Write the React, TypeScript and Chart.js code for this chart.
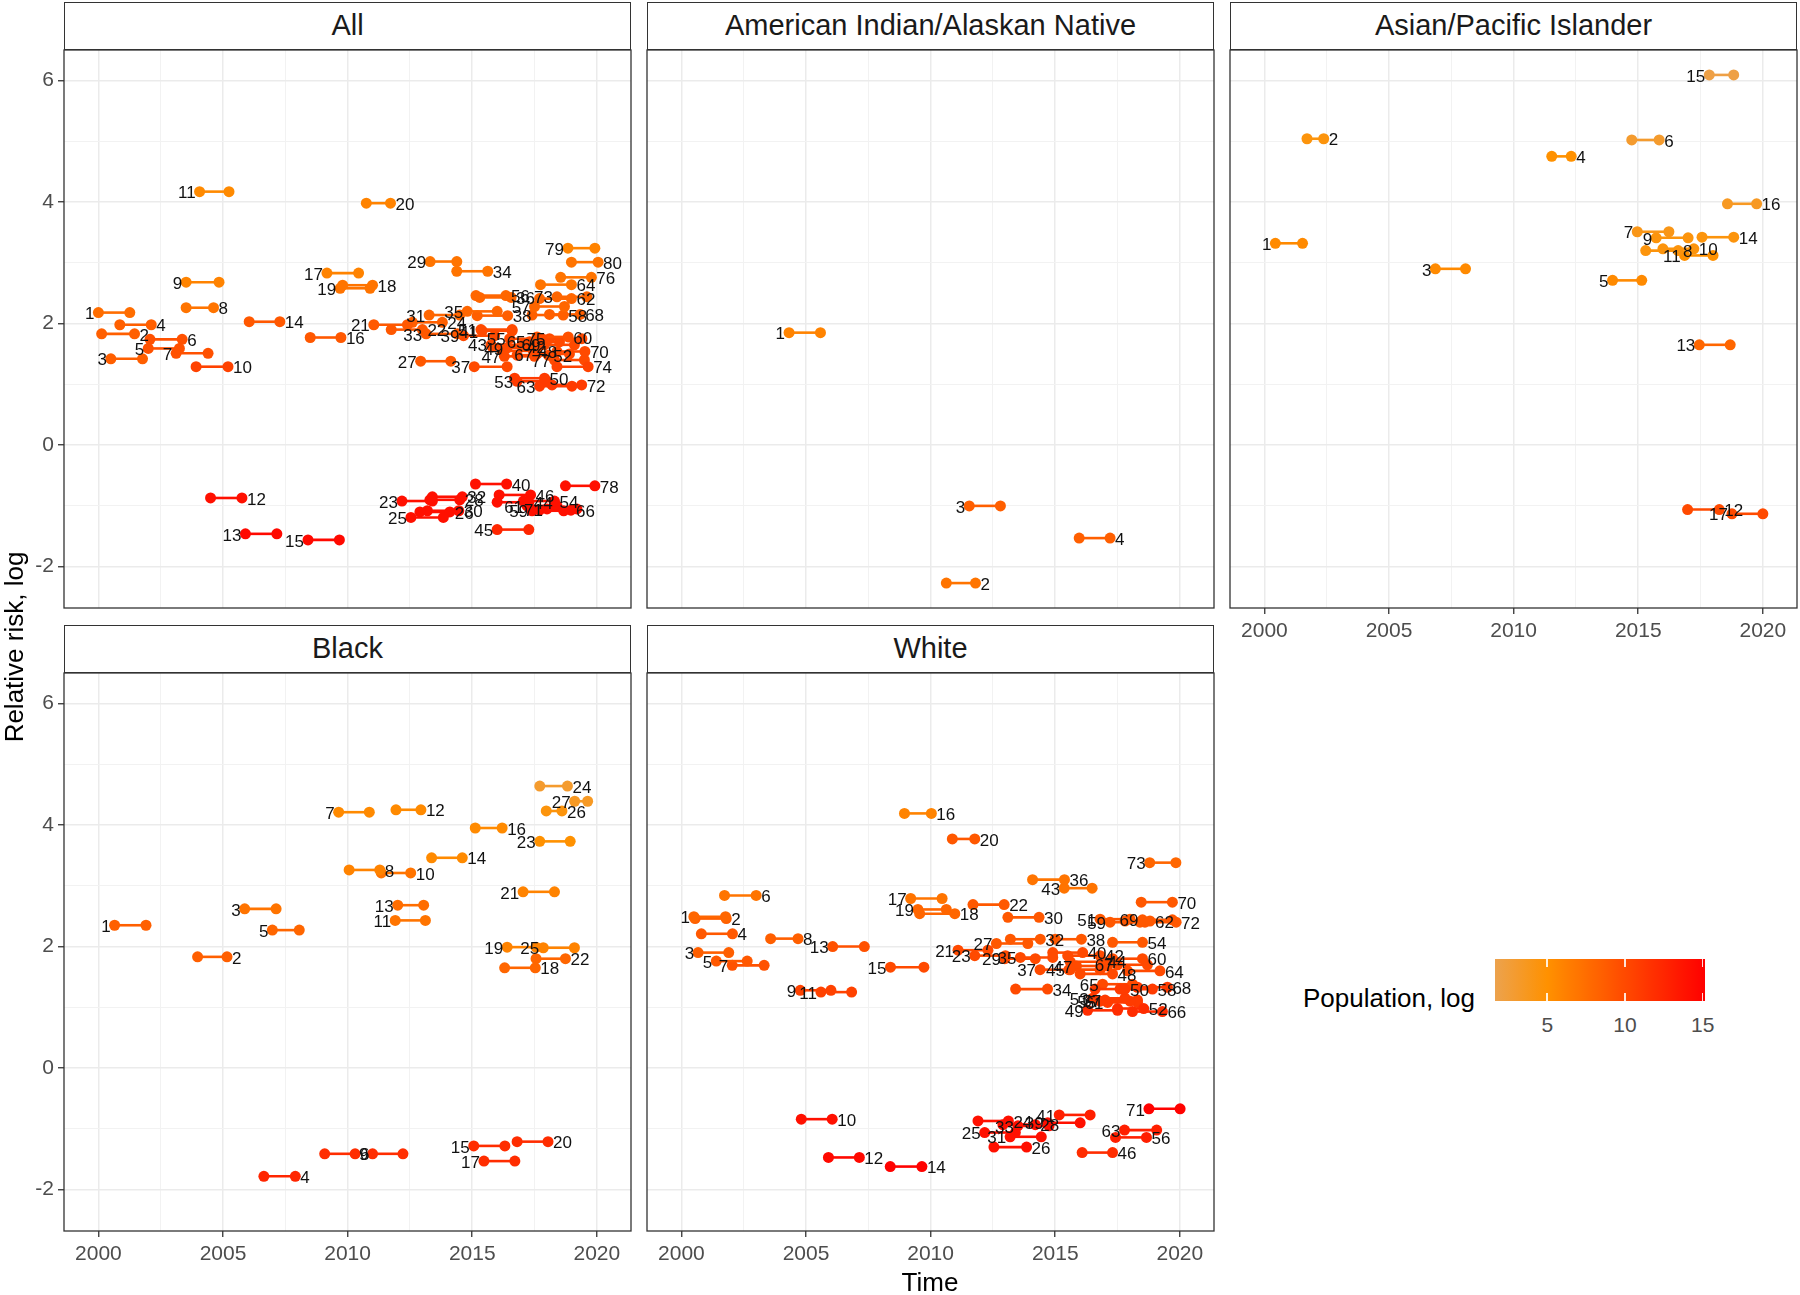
import React, { useEffect, useRef } from 'react';
import { Chart, registerables } from 'chart.js';
Chart.register(...registerables);

const FONT = '"Liberation Sans", Arial, Helvetica, sans-serif';
Chart.defaults.font.family = FONT;

// ---------- axis breaks / labels ----------
const xTickLabels = [2000, 2005, 2010, 2015, 2020];
const xMinorBreaks = [2002.5, 2007.5, 2012.5, 2017.5];
const yTickLabels = [-2, 0, 2, 4, 6];
const yMinorBreaks = [-1, 1, 3, 5];
const legendBreaks = [5, 10, 15];
const facetNames = ['All', 'American Indian/Alaskan Native', 'Asian/Pacific Islander', 'Black', 'White'];
const xTitle = 'Time';
const yTitle = 'Relative risk, log';
const legendTitle = 'Population, log';

// ---------- All ----------
const allStart = [2000.0, 2000.13, 2000.5, 2000.86, 2002.0, 2002.07, 2003.12, 2003.52, 2003.52, 2003.92, 2004.06, 2004.5, 2005.9, 2006.05, 2008.41, 2008.5, 2009.17, 2009.8, 2009.7, 2010.75, 2011.05, 2011.75, 2012.18, 2012.6, 2012.54, 2012.9, 2012.93, 2013.3, 2013.31, 2013.2, 2013.27, 2013.4, 2013.15, 2014.38, 2014.8, 2015.3, 2015.08, 2015.2, 2014.65, 2015.13, 2015.4, 2015.8, 2015.75, 2016.0, 2016.0, 2016.08, 2016.29, 2016.2, 2016.4, 2016.7, 2015.35, 2016.8, 2016.8, 2017.05, 2016.5, 2015.15, 2017.5, 2017.4, 2017.4, 2017.6, 2017.2, 2017.7, 2017.7, 2017.74, 2017.3, 2017.7, 2017.6, 2018.1, 2017.9, 2018.4, 2018.0, 2018.2, 2018.4, 2018.4, 2018.1, 2018.55, 2018.3, 2018.74, 2018.84, 2018.98];
const allEnd = [2001.26, 2001.45, 2001.77, 2002.12, 2003.25, 2003.36, 2004.4, 2004.62, 2004.84, 2005.2, 2005.24, 2005.76, 2007.16, 2007.28, 2009.67, 2009.73, 2010.44, 2011.0, 2010.9, 2011.72, 2012.4, 2013.0, 2013.4, 2013.8, 2013.84, 2014.1, 2014.14, 2014.5, 2014.38, 2014.46, 2014.5, 2014.6, 2014.4, 2015.62, 2016.0, 2016.56, 2016.4, 2016.42, 2015.9, 2016.38, 2016.6, 2017.0, 2017.0, 2017.27, 2017.27, 2017.34, 2017.5, 2017.45, 2017.6, 2017.9, 2016.6, 2018.05, 2018.0, 2018.3, 2017.8, 2016.35, 2018.7, 2018.65, 2018.67, 2018.85, 2018.4, 2018.98, 2019.0, 2018.98, 2018.5, 2018.96, 2018.9, 2019.33, 2019.1, 2019.52, 2019.2, 2019.39, 2019.6, 2019.65, 2019.4, 2019.78, 2019.5, 2019.92, 2019.92, 2020.05];
const allRisk = [2.18, 1.83, 1.42, 1.98, 1.59, 1.74, 1.51, 2.26, 2.68, 1.29, 4.17, -0.87, -1.46, 2.03, -1.56, 1.77, 2.83, 2.63, 2.58, 3.98, 1.98, 1.9, -0.92, 2.02, -1.19, -1.1, 1.38, -0.9, 3.02, -1.08, 2.14, -0.85, 1.83, 2.86, 2.2, 2.43, 1.29, 2.13, 1.8, -0.64, 1.88, 1.62, 1.65, -0.94, -1.39, -0.82, 1.46, 1.55, 1.6, 1.1, 1.9, 1.48, 1.05, -0.92, 1.75, 2.46, 2.28, 2.14, -1.08, 1.78, -1.0, 2.41, 0.97, 2.64, 1.7, -1.07, 1.5, 2.15, 1.65, 1.54, -1.05, 0.99, 2.44, 1.29, 1.75, 2.76, 1.4, -0.67, 3.24, 3.01];
const allPop = [7.5, 8.5, 8.5, 8.5, 9.5, 9.5, 9.5, 7, 6, 10.5, 5.5, 14, 14.5, 9, 14.5, 9, 6, 7, 7, 6, 9, 9, 14, 8.5, 14, 14, 9, 14, 7, 14, 8, 14, 9, 7, 8, 8, 10, 8.5, 10, 14, 10, 10, 10, 14, 12.5, 14, 10, 10, 10, 11, 10, 10, 11, 14, 10, 8, 8, 8.5, 14, 9.5, 14, 8, 11, 7, 10, 14, 10, 8.5, 10, 10, 14, 11, 8, 10.5, 10, 7, 10, 14, 6, 7];

// ---------- American Indian/Alaskan Native ----------
const aianStart = [2004.32, 2010.63, 2011.55, 2015.96];
const aianEnd = [2005.58, 2011.8, 2012.8, 2017.2];
const aianRisk = [1.85, -2.27, -1.0, -1.53];
const aianPop = [6, 7, 8.5, 8.5];

// ---------- Asian/Pacific Islander ----------
const asianStart = [2000.44, 2001.71, 2006.86, 2011.53, 2013.97, 2014.74, 2014.96, 2015.3, 2015.72, 2015.99, 2016.86, 2016.98, 2017.45, 2017.56, 2017.85, 2018.58, 2018.76];
const asianEnd = [2001.53, 2002.38, 2008.07, 2012.31, 2015.14, 2015.84, 2016.23, 2016.6, 2017.0, 2017.23, 2018.0, 2018.25, 2018.69, 2018.83, 2018.83, 2019.75, 2020.0];
const asianRisk = [3.32, 5.04, 2.9, 4.75, 2.71, 5.02, 3.51, 3.2, 3.41, 3.23, 3.12, -1.06, 1.65, 3.42, 6.09, 3.97, -1.13];
const asianPop = [5.5, 4.5, 5.5, 5, 5.5, 3, 4, 4.5, 4.5, 4.5, 5, 10, 8, 4.5, 2, 3.5, 10];

// ---------- Black ----------
const blackStart = [2000.65, 2003.98, 2005.87, 2006.64, 2006.98, 2009.08, 2009.64, 2010.06, 2011.0, 2011.35, 2011.91, 2011.94, 2012.01, 2013.37, 2015.06, 2015.12, 2015.47, 2016.3, 2016.4, 2016.8, 2017.04, 2017.56, 2017.71, 2017.71, 2017.85, 2017.97, 2019.11];
const blackEnd = [2001.91, 2005.16, 2007.13, 2007.9, 2008.06, 2010.3, 2010.87, 2011.29, 2012.22, 2012.53, 2013.12, 2012.94, 2013.05, 2014.6, 2016.31, 2016.2, 2016.71, 2017.53, 2017.56, 2018.04, 2018.3, 2018.74, 2018.93, 2018.82, 2019.1, 2018.6, 2019.63];
const blackRisk = [2.35, 1.83, 2.62, -1.78, 2.27, -1.41, 4.21, 3.26, -1.41, 3.21, 2.43, 4.25, 2.68, 3.46, -1.28, 3.95, -1.53, 1.65, 1.99, -1.21, 2.9, 1.8, 3.73, 4.64, 1.98, 4.23, 4.39];
const blackPop = [8.5, 8.5, 7, 12.5, 8, 12, 5.5, 6, 12, 7, 7, 5.5, 7.5, 5.5, 12, 5.5, 12, 8, 6, 12, 6, 8, 5, 3, 6, 4.5, 3.5];

// ---------- White ----------
const whiteStart = [2000.5, 2000.55, 2000.67, 2000.8, 2001.4, 2001.73, 2002.04, 2003.58, 2004.77, 2004.81, 2005.6, 2005.9, 2006.07, 2008.38, 2008.39, 2008.95, 2009.2, 2009.56, 2009.49, 2010.87, 2011.1, 2011.7, 2011.77, 2011.9, 2012.17, 2012.54, 2012.64, 2012.9, 2012.98, 2013.1, 2013.19, 2013.2, 2013.5, 2013.41, 2013.6, 2014.09, 2014.39, 2015.0, 2014.7, 2014.9, 2015.16, 2015.5, 2015.36, 2015.6, 2015.55, 2016.08, 2015.85, 2016.0, 2016.3, 2016.6, 2016.8, 2017.5, 2016.5, 2017.3, 2016.8, 2017.42, 2017.0, 2017.6, 2017.2, 2017.3, 2017.1, 2017.8, 2017.78, 2017.9, 2016.9, 2018.1, 2017.5, 2018.3, 2018.5, 2018.45, 2018.76, 2018.6, 2018.79];
const whiteEnd = [2001.77, 2001.8, 2001.9, 2002.05, 2002.64, 2003.0, 2003.32, 2004.68, 2006.0, 2006.05, 2006.83, 2007.14, 2007.34, 2009.65, 2009.73, 2010.03, 2010.46, 2010.97, 2010.63, 2011.77, 2012.3, 2012.95, 2013.0, 2013.12, 2013.4, 2013.85, 2013.9, 2014.2, 2014.2, 2014.35, 2014.44, 2014.4, 2014.75, 2014.69, 2014.9, 2015.37, 2015.6, 2016.05, 2016.0, 2016.1, 2016.4, 2016.8, 2016.48, 2016.9, 2016.8, 2017.3, 2017.1, 2017.3, 2017.5, 2017.8, 2018.0, 2018.55, 2017.8, 2018.5, 2018.0, 2018.66, 2018.3, 2018.9, 2018.4, 2018.5, 2018.3, 2018.8, 2019.07, 2019.2, 2018.1, 2019.3, 2018.7, 2019.5, 2019.7, 2019.7, 2020.01, 2019.85, 2019.84];
const whiteRisk = [2.49, 2.46, 1.9, 2.21, 1.76, 2.84, 1.69, 2.13, 1.28, -0.84, 1.25, -1.47, 2.0, -1.62, 1.66, 4.19, 2.79, 2.54, 2.61, 3.77, 1.94, 2.69, 1.85, -0.87, -1.06, -1.3, 2.05, -0.93, 1.8, 2.48, -1.13, 2.12, -0.95, 1.3, 1.82, 3.1, 1.62, 2.12, -0.9, 1.9, -0.77, 1.85, 2.96, 1.75, 1.62, -1.39, 1.68, 1.55, 0.95, 1.3, 2.45, 0.98, 1.15, 2.07, 1.1, -1.14, 1.12, 1.3, 2.4, 1.8, 1.08, 2.42, -1.02, 1.6, 1.38, 0.93, 1.7, 1.33, 2.44, 2.73, -0.67, 2.4, 3.38];
const whitePop = [8, 8.5, 8.5, 9, 9, 7, 9.5, 8.5, 10.5, 14, 10.5, 14.5, 9.5, 15, 10, 6, 7, 8, 8, 9, 10, 9, 10, 14, 14, 14, 9, 14, 10, 9, 14, 9, 14, 10, 10, 7, 10, 9, 14, 10, 13, 10, 7, 10, 10, 12, 10, 10, 12, 11, 9, 12, 11, 9, 11, 13, 11, 11, 9, 10, 11, 9, 13, 10, 10, 12, 10, 11, 9, 9, 15, 9, 8];

// ---------- scale limits ----------
const X_MIN = 1998.62;
const X_MAX = 2021.37;
const Y_MIN = -2.68;
const Y_MAX = 6.5;
const POP_MIN = 1.64;
const POP_MAX = 15.15;

// colour gradient (value -> rgb)
const COLOR_STOPS: [number, number[]][] = [
  [POP_MIN, [236, 162, 78]],
  [5, [255, 145, 0]],
  [POP_MAX, [255, 0, 0]],
];
function popColor(v: number): string {
  const x = Math.max(POP_MIN, Math.min(POP_MAX, v));
  for (let i = 0; i < COLOR_STOPS.length - 1; i++) {
    const [a, ca] = COLOR_STOPS[i];
    const [b, cb] = COLOR_STOPS[i + 1];
    if (x <= b) {
      const t = (x - a) / (b - a);
      const c = ca.map((q, k) => Math.round(q + (cb[k] - q) * t));
      return `rgb(${c[0]},${c[1]},${c[2]})`;
    }
  }
  return 'rgb(255,0,0)';
}

// ---------- layout ----------
const PW = 567;
const PH = 558;
const COL_LEFT = [64, 647, 1230];
const ROW_TOP = [50, 673];
const STRIP_H = 48;
const PAD_L = 60;
const PAD_T = 20;
const PAD_R = 20;
const PAD_B = 50;
const CW = PW + PAD_L + PAD_R;
const CH = PH + PAD_T + PAD_B;

type Facet = { name: string; start: number[]; end: number[]; risk: number[]; pop: number[]; col: number; row: number; showX: boolean; showY: boolean };

const facets: Facet[] = [
  { name: facetNames[0], start: allStart, end: allEnd, risk: allRisk, pop: allPop, col: 0, row: 0, showX: false, showY: true },
  { name: facetNames[1], start: aianStart, end: aianEnd, risk: aianRisk, pop: aianPop, col: 1, row: 0, showX: false, showY: false },
  { name: facetNames[2], start: asianStart, end: asianEnd, risk: asianRisk, pop: asianPop, col: 2, row: 0, showX: true, showY: false },
  { name: facetNames[3], start: blackStart, end: blackEnd, risk: blackRisk, pop: blackPop, col: 0, row: 1, showX: true, showY: true },
  { name: facetNames[4], start: whiteStart, end: whiteEnd, risk: whiteRisk, pop: whitePop, col: 1, row: 1, showX: true, showY: false },
];

const xBreaks = [...xTickLabels, ...xMinorBreaks].sort((a, b) => a - b);
const yBreaks = [...yTickLabels, ...yMinorBreaks].sort((a, b) => a - b);

const borderPlugin = {
  id: 'panelBorder',
  afterDraw(chart: any) {
    const { ctx, chartArea } = chart;
    ctx.save();
    ctx.strokeStyle = '#333333';
    ctx.lineWidth = 1.3;
    ctx.strokeRect(chartArea.left, chartArea.top, chartArea.right - chartArea.left, chartArea.bottom - chartArea.top);
    ctx.restore();
  },
};

const labelPlugin = {
  id: 'segLabels',
  afterDatasetsDraw(chart: any) {
    const { ctx } = chart;
    ctx.save();
    ctx.font = `17px ${FONT}`;
    ctx.fillStyle = '#111111';
    ctx.textBaseline = 'middle';
    chart.data.datasets.forEach((ds: any, i: number) => {
      const meta = chart.getDatasetMeta(i);
      const p0 = meta.data[0];
      const p1 = meta.data[1];
      const id = Number(ds.label);
      if (id % 2 === 1) {
        ctx.textAlign = 'right';
        ctx.fillText(ds.label, p0.x - 4, p0.y + 2);
      } else {
        ctx.textAlign = 'left';
        ctx.fillText(ds.label, p1.x + 5, p1.y + 2);
      }
    });
    ctx.restore();
  },
};

function Panel({ f }: { f: Facet }) {
  const ref = useRef<HTMLCanvasElement>(null);
  useEffect(() => {
    const datasets = f.start.map((s, i) => {
      const c = popColor(f.pop[i]);
      return {
        label: String(i + 1),
        data: [
          { x: s, y: f.risk[i] },
          { x: f.end[i], y: f.risk[i] },
        ],
        borderColor: c,
        backgroundColor: c,
        pointBackgroundColor: c,
        pointBorderColor: c,
        pointRadius: 5.5,
        pointHoverRadius: 5.5,
        pointBorderWidth: 0,
        borderWidth: 2.6,
      };
    });
    const isMajorX = (v: number) => xTickLabels.includes(v);
    const isMajorY = (v: number) => yTickLabels.includes(v);
    const chart = new Chart(ref.current as HTMLCanvasElement, {
      type: 'line',
      data: { datasets },
      plugins: [borderPlugin, labelPlugin],
      options: {
        animation: false,
        responsive: false,
        devicePixelRatio: 1,
        events: [],
        layout: { padding: { left: 0, top: PAD_T, right: PAD_R, bottom: 0 } },
        plugins: { legend: { display: false }, tooltip: { enabled: false } },
        scales: {
          x: {
            type: 'linear',
            min: X_MIN,
            max: X_MAX,
            afterBuildTicks: (scale: any) => {
              scale.ticks = xBreaks.map((v) => ({ value: v }));
            },
            afterFit: (scale: any) => {
              scale.height = PAD_B;
            },
            ticks: {
              display: f.showX,
              autoSkip: false,
              maxRotation: 0,
              padding: 5,
              color: '#4D4D4D',
              font: { family: FONT, size: 21 },
              callback: (v: any) => (isMajorX(Number(v)) ? String(v) : ''),
            },
            grid: {
              color: (c: any) => (c.tick && isMajorX(c.tick.value) ? '#EBEBEB' : '#F2F2F2'),
              lineWidth: (c: any) => (c.tick && isMajorX(c.tick.value) ? 1.5 : 1),
              drawTicks: true,
              tickLength: 6,
              tickWidth: 1.3,
              tickColor: (c: any) => (f.showX && c.tick && isMajorX(c.tick.value) ? '#333333' : 'rgba(0,0,0,0)'),
            },
            border: { display: false },
          },
          y: {
            type: 'linear',
            min: Y_MIN,
            max: Y_MAX,
            afterBuildTicks: (scale: any) => {
              scale.ticks = yBreaks.map((v) => ({ value: v }));
            },
            afterFit: (scale: any) => {
              scale.width = PAD_L;
            },
            ticks: {
              display: f.showY,
              autoSkip: false,
              padding: 4,
              color: '#4D4D4D',
              font: { family: FONT, size: 21 },
              callback: (v: any) => (isMajorY(Number(v)) ? String(v) : ''),
            },
            grid: {
              color: (c: any) => (c.tick && isMajorY(c.tick.value) ? '#EBEBEB' : '#F2F2F2'),
              lineWidth: (c: any) => (c.tick && isMajorY(c.tick.value) ? 1.5 : 1),
              drawTicks: true,
              tickLength: 6,
              tickWidth: 1.3,
              tickColor: (c: any) => (f.showY && c.tick && isMajorY(c.tick.value) ? '#333333' : 'rgba(0,0,0,0)'),
            },
            border: { display: false },
          },
        },
      } as any,
    });
    return () => chart.destroy();
  }, [f]);
  const left = COL_LEFT[f.col];
  const top = ROW_TOP[f.row];
  return (
    <>
      <div
        style={{
          position: 'absolute',
          left,
          top: top - STRIP_H,
          width: PW,
          height: STRIP_H,
          boxSizing: 'border-box',
          border: '1.3px solid #333333',
          background: '#FFFFFF',
          color: '#1A1A1A',
          fontFamily: FONT,
          fontSize: 29,
          lineHeight: `${STRIP_H - 3}px`,
          textAlign: 'center',
          whiteSpace: 'nowrap',
        }}
      >
        {f.name}
      </div>
      <canvas
        ref={ref}
        width={CW}
        height={CH}
        style={{ position: 'absolute', left: left - PAD_L, top: top - PAD_T, width: CW, height: CH }}
      />
    </>
  );
}

// legend geometry
const LEG_X = 1495;
const LEG_Y = 959;
const LEG_W = 210;
const LEG_H = 42;

function Legend() {
  const stops: string[] = [];
  for (let k = 0; k <= 20; k++) {
    const v = POP_MIN + ((POP_MAX - POP_MIN) * k) / 20;
    stops.push(`${popColor(v)} ${(k * 5).toFixed(0)}%`);
  }
  const px = (v: number) => LEG_X + ((v - POP_MIN) / (POP_MAX - POP_MIN)) * LEG_W;
  return (
    <>
      <div
        style={{
          position: 'absolute',
          left: 1303,
          top: 983,
          fontFamily: FONT,
          fontSize: 26,
          lineHeight: '30px',
          color: '#000',
          whiteSpace: 'nowrap',
        }}
      >
        {legendTitle}
      </div>
      <div
        style={{
          position: 'absolute',
          left: LEG_X,
          top: LEG_Y,
          width: LEG_W,
          height: LEG_H,
          background: `linear-gradient(to right, ${stops.join(', ')})`,
        }}
      />
      {legendBreaks.map((b) => (
        <React.Fragment key={b}>
          <div style={{ position: 'absolute', left: px(b) - 0.75, top: LEG_Y, width: 1.5, height: 8, background: 'rgba(255,255,255,0.85)' }} />
          <div style={{ position: 'absolute', left: px(b) - 0.75, top: LEG_Y + LEG_H - 8, width: 1.5, height: 8, background: 'rgba(255,255,255,0.85)' }} />
          <div
            style={{
              position: 'absolute',
              left: px(b) - 30,
              width: 60,
              top: 1012,
              textAlign: 'center',
              fontFamily: FONT,
              fontSize: 21,
              lineHeight: '26px',
              color: '#4D4D4D',
            }}
          >
            {String(b)}
          </div>
        </React.Fragment>
      ))}
    </>
  );
}

export default function App() {
  return (
    <div style={{ position: 'absolute', left: 0, top: 0, width: 1800, height: 1295, background: '#FFFFFF', overflow: 'hidden' }}>
      {facets.map((f) => (
        <Panel key={f.name} f={f} />
      ))}
      <div
        style={{
          position: 'absolute',
          left: 14 - 200,
          top: 647 - 15,
          width: 400,
          height: 30,
          lineHeight: '30px',
          textAlign: 'center',
          transform: 'rotate(-90deg)',
          fontFamily: FONT,
          fontSize: 26,
          color: '#000',
          whiteSpace: 'nowrap',
        }}
      >
        {yTitle}
      </div>
      <div
        style={{
          position: 'absolute',
          left: 930 - 150,
          top: 1282 - 15,
          width: 300,
          height: 30,
          lineHeight: '30px',
          textAlign: 'center',
          fontFamily: FONT,
          fontSize: 26,
          color: '#000',
        }}
      >
        {xTitle}
      </div>
      <Legend />
    </div>
  );
}
